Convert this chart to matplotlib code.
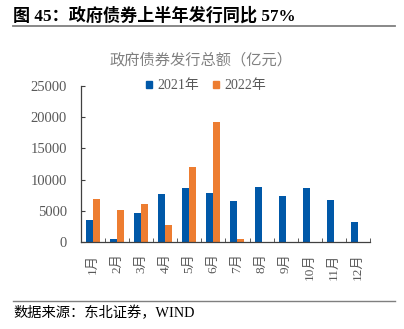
import matplotlib
matplotlib.use("Agg")
import matplotlib.pyplot as plt
import numpy as np
from matplotlib.lines import Line2D
from matplotlib.patches import Patch

plt.rcParams['font.family'] = ['Liberation Serif', 'Noto Sans CJK SC']

months = ["1月", "2月", "3月", "4月", "5月", "6月", "7月", "8月", "9月", "10月", "11月", "12月"]
y2021 = [3600, 500, 4750, 7700, 8700, 7900, 6600, 8800, 7350, 8700, 6800, 3300]
y2022 = [7000, 5100, 6200, 2850, 12050, 19250, 600]
yticks = [0, 5000, 10000, 15000, 20000, 25000]
title = "图 45：政府债券上半年发行同比 57%"
chart_title = "政府债券发行总额（亿元）"
source = "数据来源：东北证券，WIND"
series_names = ["2021年", "2022年"]

blue = "#0058A8"
orange = "#ED7D31"

fig = plt.figure(figsize=(4.04, 3.29), dpi=100)
ax = fig.add_axes([0.2, 0.263, 0.716, 0.477])

x = np.arange(len(months))
w = 0.29
ax.bar(x[:len(y2021)] - w / 2, y2021, width=w, color=blue, label=series_names[0])
ax.bar(x[:len(y2022)] + w / 2, y2022, width=w, color=orange, label=series_names[1])

ax.set_xlim(-0.5, len(months) - 0.5)
ax.set_ylim(0, 25000)
ax.set_yticks(yticks)
ax.set_yticklabels([str(v) for v in yticks], fontsize=10.5, color="#595959")
ax.tick_params(axis='y', direction='in', length=3, color="#404040", pad=10)

ax.set_xticks(x)
ax.set_xticklabels(months, rotation=90, fontsize=9.5, color="#595959")
ax.tick_params(axis='x', which='major', length=0, pad=8)
ax.set_xticks(np.arange(-0.5, len(months), 1), minor=True)
ax.tick_params(axis='x', which='minor', direction='in', length=3, color="#404040")

for s in ['top', 'right']:
    ax.spines[s].set_visible(False)
for s in ['left', 'bottom']:
    ax.spines[s].set_color("#404040")
    ax.spines[s].set_linewidth(0.9)

handles = [Patch(color=blue), Patch(color=orange)]
fig.legend(handles, series_names, loc='center', bbox_to_anchor=(0.5 + 4 / 404, 1 - 86 / 329),
           ncol=2, frameon=False, fontsize=10, handlelength=0.45, handleheight=0.45,
           handletextpad=0.4, columnspacing=1.0, labelcolor="#595959")

fig.text(13 / 404, 1 - 16 / 329, title, fontsize=12.3, fontweight='bold', va='center', ha='left')
fig.add_artist(Line2D([13 / 404, 395 / 404], [1 - 26 / 329, 1 - 26 / 329], color="#7f7f7f", lw=1.3))
fig.text(201 / 404, 1 - 60 / 329, chart_title, fontsize=11, color="#808080", ha='center', va='center')
fig.add_artist(Line2D([13 / 404, 395 / 404], [1 - 301 / 329, 1 - 301 / 329], color="#7f7f7f", lw=1.0))
fig.text(13 / 404, 1 - 313 / 329, source, fontsize=10.3, ha='left', va='center')

fig.savefig("out.png", dpi=100)
